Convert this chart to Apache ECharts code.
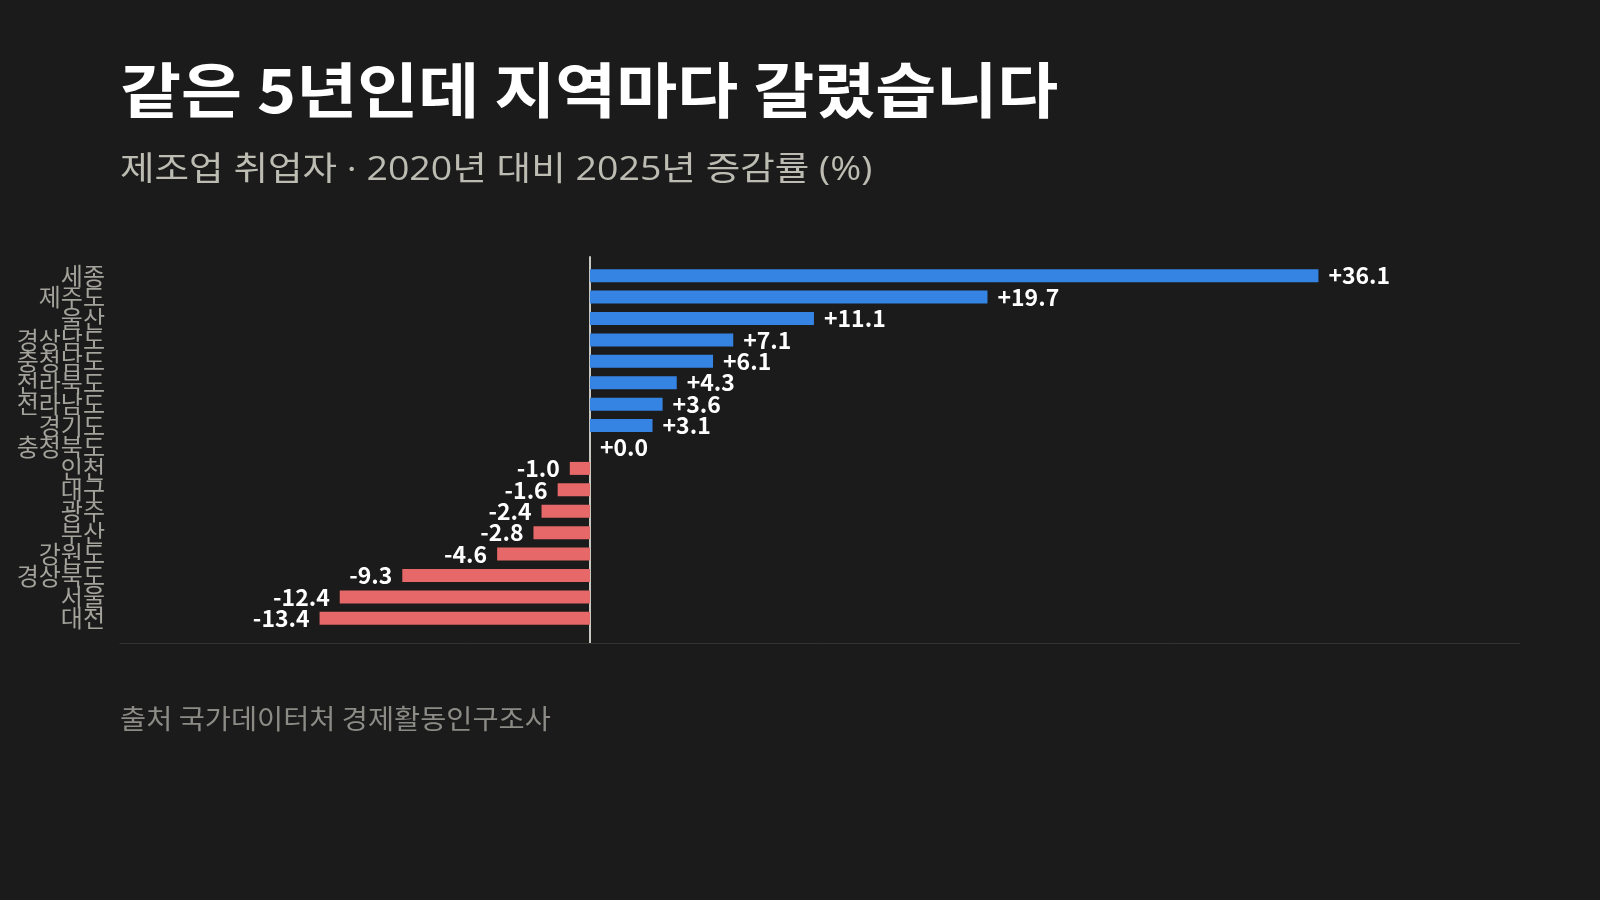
<!DOCTYPE html>
<html>
<head>
<meta charset="utf-8">
<script src="https://cdn.jsdelivr.net/npm/echarts@6/dist/echarts.min.js"></script>
<style>
html,body{margin:0;padding:0;background:#1b1b1b;}
#c{width:1600px;height:900px;}
</style>
</head>
<body>
<div id="c"></div>
<script>
const regions = ['세종','제주도','울산','경상남도','충청남도','전라북도','전라남도','경기도','충청북도','인천','대구','광주','부산','강원도','경상북도','서울','대전'];
const changes = [36.1, 19.7, 11.1, 7.1, 6.1, 4.3, 3.6, 3.1, 0.0, -1.0, -1.6, -2.4, -2.8, -4.6, -9.3, -12.4, -13.4];
const titleText = '같은 5년인데 지역마다 갈렸습니다';
const subtitleText = '제조업 취업자 · 2020년 대비 2025년 증감률 (%)';
const sourceText = '출처 국가데이터처 경제활동인구조사';

const FONT = '"Noto Sans CJK KR", "Noto Sans", sans-serif';
const FONT_MIX = '"Open Sans", "Noto Sans CJK KR", sans-serif';
const X_MIN = -23.29, X_MAX = 46.09;
const POS = '#3584e4', NEG = '#e66868';

const chart = echarts.init(document.getElementById('c'));
chart.setOption({
  backgroundColor: '#1b1b1b',
  animation: false,
  textStyle: { fontFamily: FONT },
  graphic: [
    { type: 'text', x: 120, y: 60, scaleX: 1.105,
      style: { text: titleText, fill: '#ffffff', font: 'bold 60px ' + FONT } },
    { type: 'text', x: 120, y: 154, scaleX: 1.138,
      style: { text: subtitleText, fill: '#bdbcb3', font: '33px ' + FONT_MIX } },
    { type: 'text', x: 120, y: 705, scaleX: 1.052,
      style: { text: sourceText, fill: '#8c8b86', font: '27px ' + FONT } }
  ],
  grid: [
    { left: 120, right: 80, top: 265, height: 364 },
    { left: 120, right: 80, top: 257, bottom: 257 }
  ],
  xAxis: [
    { type: 'value', gridIndex: 0, min: X_MIN, max: X_MAX, show: false },
    { type: 'value', gridIndex: 1, min: X_MIN, max: X_MAX,
      axisLine: { show: true, lineStyle: { color: '#333333', width: 1 } },
      axisTick: { show: false }, axisLabel: { show: false }, splitLine: { show: false } }
  ],
  yAxis: [
    { type: 'category', gridIndex: 0, data: regions, inverse: true,
      axisLine: { show: false }, axisTick: { show: false }, splitLine: { show: false },
      axisLabel: { interval: 0, color: '#a3a29b', fontSize: 24, margin: 15, fontFamily: FONT } },
    { type: 'value', gridIndex: 1, min: 0, max: 1,
      axisLine: { show: true, onZero: true, lineStyle: { color: '#c9c8c0', width: 2 } },
      axisTick: { show: false }, axisLabel: { show: false }, splitLine: { show: false } }
  ],
  series: [
    {
      type: 'bar', xAxisIndex: 0, yAxisIndex: 0, barWidth: 13,
      data: changes.map(v => ({
        value: v,
        itemStyle: { color: v >= 0 ? POS : NEG },
        label: { position: v >= 0 ? 'right' : 'left' }
      })),
      label: {
        show: true, distance: 10, color: '#ffffff', fontSize: 23, fontWeight: 'bold', fontFamily: FONT,
        formatter: p => (p.value >= 0 ? '+' : '') + p.value.toFixed(1)
      }
    },
    { type: 'scatter', xAxisIndex: 1, yAxisIndex: 1, data: [] }
  ]
});
</script>
</body>
</html>
